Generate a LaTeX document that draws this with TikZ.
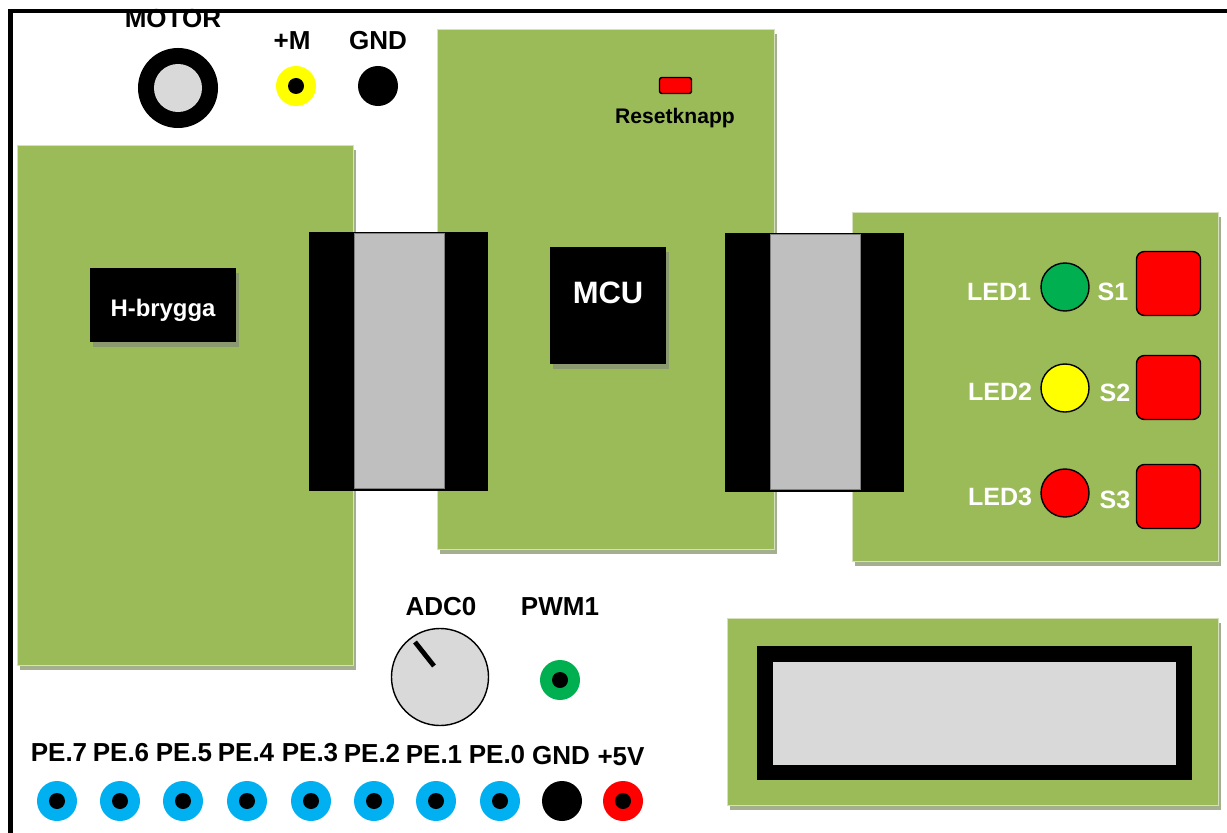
\documentclass[tikz,border=0pt]{standalone}
\usepackage{fontspec}
\setmainfont{Liberation Sans}
\usepackage{xcolor}
\usetikzlibrary{shadows}
\definecolor{boardgreen}{HTML}{9BBB59}
\definecolor{boardedge}{HTML}{D6E0BC}
\definecolor{boardshade}{HTML}{A3AF8E}
\definecolor{chipshade}{HTML}{8A9A6E}
\definecolor{pinblue}{HTML}{00B0F0}
\definecolor{ledgreen}{HTML}{00B050}
\definecolor{ledyellow}{HTML}{FFFF00}
\definecolor{ledred}{HTML}{FF0000}
\tikzset{
    board/.style={shape=rectangle, fill=boardgreen, draw=boardedge, line width=0.5pt, inner sep=0pt, drop shadow={shadow xshift=0.08cm, shadow yshift=-0.135cm, fill=boardshade, opacity=1}},
    chip/.style={shape=rectangle, fill=black, inner sep=0pt, text=white, font=\bfseries, drop shadow={shadow xshift=0.08cm, shadow yshift=-0.135cm, fill=chipshade, opacity=1}},
    block/.style={shape=rectangle, fill=black, inner sep=0pt},
    cable/.style={shape=rectangle, fill=black!25, draw=black!50, line width=0.5pt, inner sep=0pt, minimum width=2.25cm, minimum height=6.375cm},
    jack/.style={shape=circle, fill=#1, inner sep=0pt, minimum size=1cm},
    hole/.style={shape=circle, fill=black, inner sep=0pt, minimum size=0.4cm},
    led/.style={shape=circle, fill=#1, draw, line width=1pt, inner sep=0pt, minimum size=1.2cm},
    button/.style={shape=rectangle, fill=ledred, draw, line width=1pt, rounded corners=0.2cm, inner sep=0pt, minimum size=1.6cm},
    label/.style={inner sep=0pt, yshift=-0.025cm, font=\fontsize{18.5}{20}\selectfont\bfseries},
    whitelabel/.style={label, text=white, font=\fontsize{17.8}{20}\selectfont\bfseries}
}
\begin{document}
\begin{tikzpicture}[x=0.025cm, y=-0.025cm]
    \useasboundingbox (0,0) rectangle (1227,833);
    % Frame
    \coordinate (C1) at (10.5,833);
    \coordinate (C2) at (10.5,11);
    \coordinate (C3) at (1227,11);
    \draw[line width=2.9pt] (C1) -- (C2) -- (C3);
    % Boards
    \node[board, minimum width=8.4cm, minimum height=13cm](Hboard) at (185,405){};
    \node[board, minimum width=8.425cm, minimum height=13cm](MCUboard) at (605.5,289){};
    \node[board, minimum width=9.15cm, minimum height=8.725cm](LEDboard) at (1035,386.5){};
    \node[board, minimum width=12.275cm, minimum height=4.675cm](LCDboard) at (972.5,711.5){};
    % Display
    \node[block, minimum width=10.875cm, minimum height=3.35cm](LCDframe) at (974.5,713){};
    \node[shape=rectangle, fill=black!15, inner sep=0pt, minimum width=10.075cm, minimum height=2.575cm](LCDscreen) at (974.5,713.5){};
    % Ribbon cables
    \node[block, minimum width=4.475cm, minimum height=6.475cm](Conn1) at (398.5,361.5){};
    \node[cable](Cable1) at (399,361){};
    \node[block, minimum width=4.475cm, minimum height=6.475cm](Conn2) at (814.5,362.5){};
    \node[cable](Cable2) at (815,362){};
    % Chips
    \node[chip, minimum width=3.65cm, minimum height=1.85cm](Hbridge) at (163,305){};
    \node[font=\fontsize{17}{20}\selectfont\bfseries, text=white, inner sep=0pt](HbridgeText) at (163,310){H-brygga};
    \node[chip, minimum width=2.9cm, minimum height=2.925cm](MCU) at (608,305.5){};
    \node[font=\fontsize{22}{24}\selectfont\bfseries, text=white, inner sep=0pt](MCUText) at (608,292.5){MCU};
    \node[shape=rectangle, fill=ledred, draw, line width=1pt, rounded corners=0.06cm, inner sep=0pt, minimum width=0.8cm, minimum height=0.4cm](Reset) at (675.5,85.5){};
    \node[font=\fontsize{15}{17}\selectfont\bfseries, inner sep=0pt](ResetText) at (675,118.5){Resetknapp};
    % Motor and top jacks
    \node[shape=circle, fill=black, inner sep=0pt, minimum size=2cm](Motor) at (178,88){};
    \node[shape=circle, fill=black!15, inner sep=0pt, minimum size=1.2cm](MotorAxis) at (178,88){};
    \node[label](MotorText) at (173,18){MOTOR};
    \node[jack=ledyellow](Mplus) at (296,86){};
    \node[hole] at (Mplus.center){};
    \node[label](MplusText) at (292,40){+M};
    \node[jack=black](Mgnd) at (378,86){};
    \node[label](MgndText) at (378,40){GND};
    % Potentiometer and PWM
    \node[shape=circle, fill=black!15, draw, line width=1pt, inner sep=0pt, minimum size=2.425cm](Pot) at (440,677){};
    \coordinate (P1) at (415,642);
    \coordinate (P2) at (434,666);
    \draw[line width=3.4pt] (P1) -- (P2);
    \node[label](PotText) at (441,606){ADC0};
    \node[jack=ledgreen](PWM) at (560,680){};
    \node[hole] at (PWM.center){};
    \node[label](PWMText) at (560,606){PWM1};
    % Port E row
    \node[jack=pinblue](J1) at (57,801){};
    \node[hole] at (J1.center){};
    \node[label](T1) at (59,752){PE.7};
    \node[jack=pinblue](J2) at (120,801){};
    \node[hole] at (J2.center){};
    \node[label](T2) at (121,752){PE.6};
    \node[jack=pinblue](J3) at (183,801){};
    \node[hole] at (J3.center){};
    \node[label](T3) at (184,752){PE.5};
    \node[jack=pinblue](J4) at (247,801){};
    \node[hole] at (J4.center){};
    \node[label](T4) at (246,752){PE.4};
    \node[jack=pinblue](J5) at (311,801){};
    \node[hole] at (J5.center){};
    \node[label](T5) at (310,752){PE.3};
    \node[jack=pinblue](J6) at (374,801){};
    \node[hole] at (J6.center){};
    \node[label](T6) at (372,752){PE.2};
    \node[jack=pinblue](J7) at (436,801){};
    \node[hole] at (J7.center){};
    \node[label](T7) at (434,754){PE.1};
    \node[jack=pinblue](J8) at (500,801){};
    \node[hole] at (J8.center){};
    \node[label](T8) at (497,754){PE.0};
    \node[jack=black](J9) at (562,801){};
    \node[label](T9) at (561,755){GND};
    \node[jack=ledred](J10) at (623,801){};
    \node[hole] at (J10.center){};
    \node[label](T10) at (621,756){+5V};
    % LEDs and switches
    \node[led=ledgreen](LED1) at (1065,287){};
    \node[whitelabel](LED1Text) at (999,291){LED1};
    \node[whitelabel](S1Text) at (1113,291){S1};
    \node[button](S1) at (1168.5,283.5){};
    \node[led=ledyellow](LED2) at (1065,388){};
    \node[whitelabel](LED2Text) at (1000,391){LED2};
    \node[whitelabel](S2Text) at (1115,392){S2};
    \node[button](S2) at (1168.5,387.5){};
    \node[led=ledred](LED3) at (1065,493){};
    \node[whitelabel](LED3Text) at (1000,496){LED3};
    \node[whitelabel](S3Text) at (1115,499){S3};
    \node[button](S3) at (1168.5,496.5){};
\end{tikzpicture}
\end{document}
